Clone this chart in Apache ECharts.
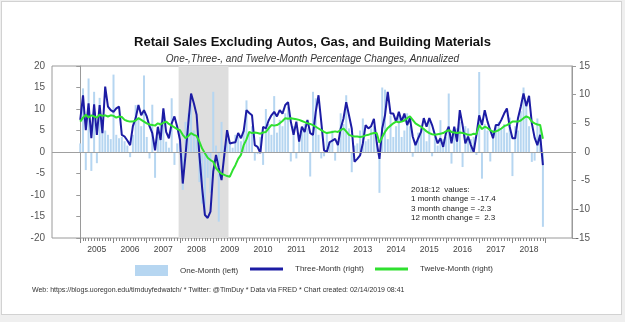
<!DOCTYPE html>
<html><head><meta charset="utf-8">
<script src="https://cdn.jsdelivr.net/npm/echarts@6/dist/echarts.min.js"></script>
<style>
html,body{margin:0;padding:0;background:#efefef;}
#card{position:absolute;left:1px;top:1px;width:619px;height:312px;background:#fff;border:1px solid #d2d2d2;}
#chart{position:absolute;left:0;top:0;width:625px;height:322px;}
</style></head>
<body><div id="card"></div><div id="chart"></div>
<script>
const years = ['2005','2006','2007','2008','2009','2010','2011','2012','2013','2014','2015','2016','2017','2018'];
const firstMonth = '2005-01';
const recession = ['2007-12', '2009-06'];

// One-month change, annualized (left axis)
const oneMonth = [
  2.0, 14.8, -4.2, 17.1, -4.4, 14.0, -2.6, 12.6, 7.0, 5.0, 4.0, 3.0,
  18.0, 4.0, 3.2, 3.5, 2.5, 1.5, -1.2, 4.0, 10.9, 8.1, 6.0, 17.8,
  3.5, -1.5, 11.0, -6.0, 3.6, 7.0, 8.6, 2.4, 1.0, 12.5, -3.0, 2.0,
  4.3, -8.8, 7.0, 9.0, 11.0, 5.0, 3.5, -7.0, -12.0, -14.7, -6.0, -9.5,
  14.0, 1.5, -16.2, 7.0, 1.5, 3.0, 2.0, 1.0, 4.0, 3.5, 2.5, 5.0,
  12.0, 4.5, 6.0, -2.0, -0.5, 3.5, -3.0, 10.0, 6.5, 4.0, 13.0, 4.5,
  7.5, 6.0, 9.0, 10.5, -2.2, 6.0, -1.5, 3.5, 5.0, 6.5, 5.5, -5.7,
  14.0, 12.5, 4.0, -1.5, -1.0, 4.5, 2.5, 5.0, -2.0, 2.0, 9.0, 6.5,
  13.2, 5.5, -4.7, 1.5, 2.0, 5.0, 7.8, 2.5, 3.0, 5.5, 6.0, 2.0,
  -9.5, 15.0, 14.5, 3.0, 8.5, 3.5, 6.0, 9.0, 3.5, 5.0, 9.0, 6.0,
  -1.1, 2.5, 4.5, 5.5, 5.5, 2.5, 7.0, -1.0, 3.5, 1.5, 7.4, 3.0,
  3.5, 13.6, -2.7, 4.5, 5.5, 7.0, -3.5, 6.0, 5.5, 3.0, 3.5, -0.7,
  18.6, -6.2, 6.5, 5.0, -2.2, 5.0, 6.0, 7.0, 5.5, 6.5, 4.5, 8.0,
  -5.6, 6.0, 5.0, 9.5, 15.0, 11.0, 6.0, -2.3, -2.0, 7.8, 5.5, -17.4
];
// Three-month change, annualized (right axis)
const threeMonth = [
  5.6, 9.9, 3.8, 8.5, 2.4, 8.3, 3.0, 8.2, 3.3, 11.4, 7.9, 7.3,
  7.0, 7.6, 7.9, 3.0, 2.7, 2.0, 1.2, 4.5, 5.9, 8.2, 6.4, 7.3,
  6.2, 4.5, 3.3, 0.3, 4.4, 2.1, 7.6, 3.5, 2.4, 5.0, 6.2, 4.4,
  2.1, -5.5, -0.5, 5.0, 10.2, 8.5, 6.5, -0.5, -6.3, -11.0, -11.5, -10.4,
  -3.4, -0.5, -2.8, -4.9, -0.5, 3.8, 1.5, 1.6, 1.7, 3.3, 2.4, 3.7,
  7.3, 6.8, 6.4, 1.2, 0.9, -0.2, 4.4, 4.1, 5.5, 6.4, 7.0, 6.2,
  7.3, 6.7, 8.2, 8.7, 5.3, 3.0, 5.3, 1.8, 4.4, 3.5, 5.6, 3.3,
  3.0, 7.0, 9.9, 5.2, 0.3, 0.0, 1.7, 2.0, 2.3, 1.2, 4.1, 5.8,
  8.7, 6.4, 4.1, -1.7, -1.2, -0.6, 1.5, 4.7, 4.1, 4.5, 5.8, 1.7,
  -1.2, 4.1, 6.4, 10.5, 6.7, 6.7, 5.3, 7.0, 5.3, 6.7, 4.7, 5.9,
  2.7, 1.2, 2.4, 3.5, 5.9, 4.4, 5.9, 4.7, 3.0, 1.5, 2.4, 0.9,
  3.3, 4.4, 1.5, 4.4, 1.8, 7.3, 4.7, 1.5, 2.7, 1.2, 0.0, 3.0,
  6.4, 4.7, 7.3, 5.3, 3.8, 2.4, 4.7, 4.7, 5.6, 6.7, 7.6, 4.4,
  2.4, 2.4, 5.9, 7.9, 10.2, 8.0, 9.8, 5.0, 2.5, 1.2, 3.0, -2.3
];
// Twelve-month change (right axis)
const twelveMonth = [
  5.3, 6.0, 6.5, 6.0, 6.4, 6.2, 6.0, 6.5, 6.3, 6.4, 6.2, 6.4,
  6.3, 6.0, 6.2, 6.1, 5.6, 5.4, 5.3, 5.3, 5.5, 5.9, 5.6, 5.3,
  5.0, 4.8, 4.7, 4.6, 5.0, 4.8, 5.1, 5.3, 4.9, 4.6, 4.3, 4.0,
  3.8, 3.0, 2.4, 2.8, 3.3, 3.0, 2.8, 1.8, 0.6, -0.2, -1.0, -1.4,
  -1.7, -2.8, -3.4, -3.8, -4.0, -4.2, -4.3, -3.2, -2.3, -1.2, -0.5, 1.2,
  2.2, 3.5, 3.3, 3.4, 3.3, 3.2, 3.4, 3.5, 4.1, 4.7, 4.6, 4.7,
  5.0, 5.4, 5.9, 5.8, 5.9, 5.8, 5.7, 5.6, 5.4, 5.2, 5.0, 4.9,
  4.7, 4.4, 4.1, 3.8, 3.5, 3.3, 3.4, 3.5, 3.6, 3.5, 3.8, 4.1,
  3.6, 3.0, 2.8, 2.7, 2.7, 2.6, 2.7, 2.9, 3.0, 3.2, 3.3, 3.3,
  1.6, 2.6, 3.5, 4.2, 4.6, 5.0, 5.3, 5.2, 5.3, 5.5, 5.9, 6.2,
  5.6, 5.0, 4.7, 4.4, 4.0, 3.6, 3.3, 3.1, 3.0, 3.1, 3.2, 3.3,
  3.6, 3.8, 3.5, 3.4, 3.3, 3.4, 3.3, 3.2, 3.0, 3.0, 3.2, 3.1,
  4.7, 4.0, 4.4, 4.2, 3.8, 3.5, 3.6, 3.8, 4.1, 4.5, 4.7, 5.0,
  5.3, 5.3, 5.3, 5.5, 5.9, 6.2, 6.0, 5.3, 5.0, 4.8, 4.7, 2.3
];
const leftTicks = {min: -20, max: 20, step: 5};
const rightTicks = {min: -15, max: 15, step: 5};

function monthIndex(s) {
  const [y, m] = s.split('-').map(Number);
  const [y0, m0] = firstMonth.split('-').map(Number);
  return (y - y0) * 12 + (m - m0);
}
const n = oneMonth.length;
const lastLabel = years[years.length - 1] + ':12';

const chart = echarts.init(document.getElementById('chart'), null, {renderer: 'canvas'});
const FONT = 'Liberation Sans, Arial, Helvetica, sans-serif';
const axisGray = '#9a9a9a';
const C1 = '#b6d6f1', C3 = '#1c1ca4', C12 = '#2fe02f';

const legendBase = {top: 265, padding: 0, itemGap: 0, itemWidth: 33,
  textStyle: {fontSize: 8, color: '#333', padding: [0, 0, 0, 7], fontFamily: FONT}};

const option = {
  animation: false,
  textStyle: {fontFamily: FONT},
  title: [
    {text: 'Retail Sales Excluding Autos, Gas, and Building Materials', left: 'center', top: 31,
     textStyle: {fontSize: 13, fontWeight: 'bold', color: '#111', fontFamily: FONT}},
    {text: 'One-,Three-, and Twelve-Month Percentage Changes, Annualized', left: 'center', top: 49,
     textStyle: {fontSize: 10, fontStyle: 'italic', fontWeight: 'normal', color: '#333', fontFamily: FONT}}
  ],
  grid: [
    {left: 52, top: 66, width: 520, height: 172, show: true, borderColor: axisGray, borderWidth: 1, backgroundColor: 'transparent'},
    {left: 80.2, top: 66, width: 465.4, height: 172, show: false}
  ],
  xAxis: [
    {gridIndex: 0, type: 'value', min: -10.2, max: 177.5, show: false},
    {gridIndex: 1, type: 'value', min: 0, max: n, interval: 1, position: 'bottom',
     axisLine: {show: false, onZero: false}, axisLabel: {show: false}, splitLine: {show: false},
     axisTick: {show: true, length: 3, lineStyle: {color: '#888', width: 1}}},
    {gridIndex: 1, type: 'category', data: years, boundaryGap: true, position: 'bottom',
     axisLine: {show: false, onZero: false}, splitLine: {show: false},
     axisTick: {show: true, length: 5, interval: 0, lineStyle: {color: '#888', width: 1}},
     axisLabel: {fontSize: 8.5, color: '#444', margin: 7, interval: 0}}
  ],
  yAxis: [
    {gridIndex: 0, type: 'value', position: 'left', min: leftTicks.min, max: leftTicks.max, interval: leftTicks.step,
     axisLine: {show: true, lineStyle: {color: axisGray}}, axisTick: {show: true, length: 4, lineStyle: {color: axisGray}},
     axisLabel: {fontSize: 10, color: '#555', margin: 7}, splitLine: {show: false}},
    {gridIndex: 0, type: 'value', position: 'right', min: rightTicks.min, max: rightTicks.max, interval: rightTicks.step,
     axisLine: {show: true, lineStyle: {color: axisGray}}, axisTick: {show: true, length: 4, lineStyle: {color: axisGray}},
     axisLabel: {fontSize: 10, color: '#555', margin: 18, align: 'right'}, splitLine: {show: false}},
    {gridIndex: 1, type: 'value', show: false, min: 0, max: 1}
  ],
  legend: [
    Object.assign({}, legendBase, {left: 135, itemHeight: 11,
      data: [{name: 'One-Month (left)', icon: 'rect'}]}),
    Object.assign({}, legendBase, {left: 250, itemHeight: 3,
      data: [{name: 'Three-Month (right)', icon: 'rect'}]}),
    Object.assign({}, legendBase, {left: 375, itemHeight: 3,
      data: [{name: 'Twelve-Month (right)', icon: 'rect'}]})
  ],
  graphic: [
    {type: 'text', left: 411, top: 185, z: 50,
     style: {text: [lastLabel + '  values:',
                    '1 month change = ' + oneMonth[n-1].toFixed(1),
                    '3 month change = ' + threeMonth[n-1].toFixed(1),
                    '12 month change =  ' + twelveMonth[n-1].toFixed(1)].join('\n'),
             fontSize: 8, lineHeight: 9.5, fill: '#222', fontFamily: FONT}},
    {type: 'text', left: 32, top: 287, z: 50,
     style: {text: 'Web: https://blogs.uoregon.edu/timduyfedwatch/ * Twitter: @TimDuy * Data via FRED * Chart created: 02/14/2019 08:41',
             fontSize: 7, fill: '#333', fontFamily: FONT}}
  ],
  series: [
    {type: 'line', name: 'bg', xAxisIndex: 0, yAxisIndex: 0, data: [], z: 1, silent: true,
     markArea: {silent: true, itemStyle: {color: '#dedede'},
       data: [[{xAxis: monthIndex(recession[0]) + 0.5}, {xAxis: monthIndex(recession[1]) + 0.5}]]},
     markLine: {silent: true, symbol: 'none', label: {show: false},
       lineStyle: {color: '#a0a0a0', width: 1, type: 'solid'}, data: [{yAxis: 0}]}},
    {type: 'bar', name: 'One-Month (left)', xAxisIndex: 0, yAxisIndex: 0, z: 2,
     barWidth: 2, itemStyle: {color: C1},
     data: oneMonth.map((v, i) => [i, v])},
    {type: 'line', name: 'Three-Month (right)', xAxisIndex: 0, yAxisIndex: 1, z: 3,
     showSymbol: false, symbol: 'none', itemStyle: {color: C3}, lineStyle: {color: C3, width: 2},
     data: threeMonth.map((v, i) => [i, v])},
    {type: 'line', name: 'Twelve-Month (right)', xAxisIndex: 0, yAxisIndex: 1, z: 4,
     showSymbol: false, symbol: 'none', itemStyle: {color: C12}, lineStyle: {color: C12, width: 2},
     data: twelveMonth.map((v, i) => [i, v])}
  ]
};
chart.setOption(option);
</script></body></html>
